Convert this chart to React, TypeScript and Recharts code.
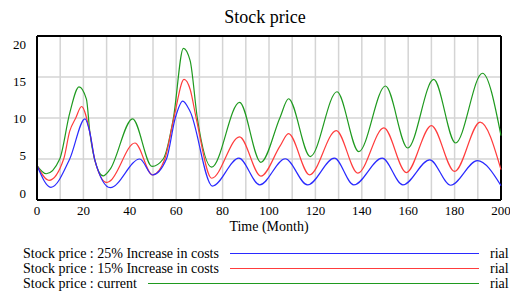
import { LineChart, Line, XAxis, YAxis, CartesianGrid, ReferenceLine, Label } from 'recharts'

const FONT = 'Liberation Serif'

// months / values, per run
const currentMonths = [0, 4, 9.8, 14.1, 18.1, 21.3, 22.8, 24.9, 28.5, 31.4, 41.2, 49.6, 54.4, 58.8, 63.1, 66, 69.1, 75.3, 87.3, 96.5, 104.8, 108.4, 117.8, 129.3, 138.7, 150.2, 159.8, 171, 180.4, 192, 200]
const currentPrice = [4.2, 3.2, 5.0, 10.6, 13.8, 12.3, 8.2, 4.9, 2.95, 3.7, 9.9, 4.1, 5.0, 10.0, 18.5, 17.0, 10.0, 4.0, 11.9, 4.6, 10.1, 12.35, 5.3, 13.2, 5.9, 13.9, 6.34, 14.7, 6.95, 15.46, 7.85]

const inc15Months = [0, 5.2, 11.5, 14.1, 16.7, 19.2, 22.8, 24.9, 30, 31.4, 42.2, 49.8, 55.1, 59, 63.4, 66, 68.6, 75.3, 87.3, 96.5, 104.8, 108.4, 117.5, 129, 138.3, 149.5, 159.2, 170, 180, 191, 200]
const inc15Price = [4.2, 2.4, 5.0, 8.4, 10.0, 11.4, 8.2, 4.9, 2.15, 2.3, 6.95, 3.05, 5.0, 10.0, 14.7, 13.5, 10.0, 2.65, 7.7, 2.9, 6.6, 8.1, 3.07, 8.47, 3.27, 8.8, 3.35, 9.08, 3.48, 9.5, 3.7]

const inc25Months = [0, 6, 14.1, 20.7, 22.8, 24.9, 31.6, 44.3, 49.8, 55.8, 59.6, 62.8, 66, 75.6, 87, 96, 107, 116.6, 128.2, 136.5, 148.8, 157.7, 169.3, 178.3, 189.8, 200]
const inc25Price = [4.2, 1.55, 5.0, 9.9, 8.2, 4.9, 1.5, 5.0, 3.05, 5.0, 10.0, 12.06, 10.8, 1.7, 5.1, 1.85, 5.03, 1.84, 5.1, 1.84, 5.1, 1.84, 4.9, 1.8, 4.8, 1.75]

const xTicks = [0, 10, 20, 30, 40, 50, 60, 70, 80, 90, 100, 110, 120, 130, 140, 150, 160, 170, 180, 190, 200]
const yTicks = [0, 5, 10, 15, 20]

const toPoints = (months: number[], values: number[]) => months.map((t, i) => ({ t, v: values[i] }))

const series = [
  { name: 'Stock price : 25% Increase in costs', color: '#2a2aff', data: toPoints(inc25Months, inc25Price) },
  { name: 'Stock price : 15% Increase in costs', color: '#ff3c3c', data: toPoints(inc15Months, inc15Price) },
  { name: 'Stock price : current', color: '#1f9a1f', data: toPoints(currentMonths, currentPrice) },
]

// vensim spreads the y labels a bit inside the frame
function YTick({ x, y, payload }: any) {
  const v = payload.value
  return (
    <text x={x} y={y} dy={-7 + v * 0.75} textAnchor="end" dominantBaseline="central" fontFamily={FONT} fontSize={13} fill="#000">
      {v}
    </text>
  )
}

export default function App() {
  return (
    <div style={{ position: 'fixed', left: 0, top: 0, width: 510, height: 294, background: '#fff', fontFamily: FONT, color: '#000' }}>
      <div style={{ position: 'absolute', left: 265, top: 6, transform: 'translateX(-50%)', fontSize: 18, lineHeight: '22px', whiteSpace: 'nowrap' }}>
        Stock price
      </div>
      <LineChart width={510} height={234} margin={{ top: 36, right: 9, left: 7, bottom: 0 }}>
        <CartesianGrid stroke="#d4d4d4" strokeWidth={1.5} />
        <XAxis
          type="number"
          dataKey="t"
          domain={[0, 200]}
          ticks={xTicks}
          interval={0}
          height={34}
          tickSize={0}
          tickMargin={6}
          tickFormatter={(v: number) => (v % 20 === 0 ? String(v) : '')}
          tick={{ fontFamily: FONT, fontSize: 13, fill: '#000' }}
          axisLine={{ stroke: '#000', strokeWidth: 2 }}
          allowDuplicatedCategory={false}
        >
          <Label value="Time (Month)" position="insideBottom" offset={3} style={{ fontFamily: FONT, fontSize: 14, fill: '#000' }} />
        </XAxis>
        <YAxis
          type="number"
          domain={[0, 20]}
          ticks={yTicks}
          interval={0}
          width={30}
          tickSize={0}
          tickMargin={11}
          tick={<YTick />}
          axisLine={{ stroke: '#000', strokeWidth: 2 }}
          allowDataOverflow
        />
        <ReferenceLine y={20} stroke="#000" strokeWidth={2} />
        <ReferenceLine x={200} stroke="#000" strokeWidth={2} />
        {[...series].reverse().map((s) => (
          <Line
            key={s.name}
            data={s.data}
            dataKey="v"
            name={s.name}
            type="monotone"
            stroke={s.color}
            strokeWidth={1.2}
            dot={false}
            activeDot={false}
            isAnimationActive={false}
          />
        ))}
      </LineChart>
      {series.map((s, i) => (
        <div key={s.name} style={{ position: 'absolute', left: 23, top: 246 + i * 15, width: 456, height: 15, display: 'flex', alignItems: 'center', fontSize: 14, lineHeight: '15px', whiteSpace: 'nowrap' }}>
          <span>{s.name}</span>
          <div style={{ flex: 1, marginLeft: 11, borderTop: `1.5px solid ${s.color}` }} />
          <span style={{ position: 'absolute', left: 467 }}>rial</span>
        </div>
      ))}
    </div>
  )
}
